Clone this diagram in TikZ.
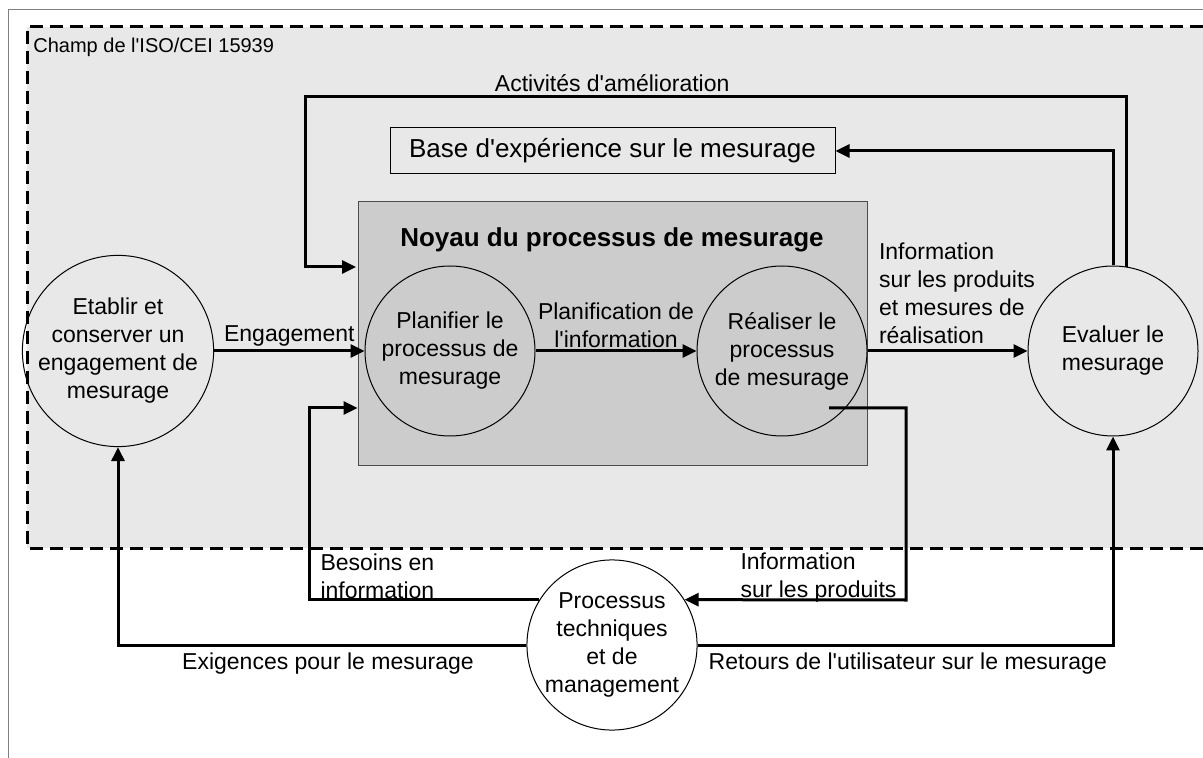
\documentclass[tikz,border=0pt]{standalone}
\usepackage{fontspec}
\setsansfont{Liberation Sans}[Ligatures=TeXOff]
\usetikzlibrary{arrows.meta}
\definecolor{scopeFill}{HTML}{E8E8E8}
\definecolor{coreFill}{HTML}{CCCCCC}
\begin{document}
\begin{tikzpicture}[
  x=0.5pt, y=-0.5pt,
  font=\sffamily\fontsize{11.5}{14}\selectfont,
  every node/.style={align=center},
  process/.style={draw, line width=0.5pt, circle, minimum size=85pt, inner sep=0pt,
    font=\sffamily\fontsize{11.5}{14}\selectfont},
  flow/.style={-{Triangle[length=7pt,width=6.5pt]}, line width=1.5pt},
  scopeLine/.style={line width=1.5pt, dash pattern=on 6.5pt off 3.5pt}]

% Frame and scope of the standard
\useasboundingbox (0,0) rectangle (1203,758);
\draw[gray, line width=0.5pt] (8,758) -- (8,10) -- (1203,10);
\fill[scopeFill] (27,27) rectangle (1203,548);
\draw[scopeLine] (1203,27) -- (27,27) -- (27,548) -- (1203,548);
\node[anchor=west, inner sep=0pt, font=\sffamily\fontsize{10}{12}\selectfont] (scopeLabel) at (33,47) {Champ de l'ISO/CEI 15939};

% Boxes
\node[draw, line width=0.5pt, minimum width=222.5pt, minimum height=23pt, inner sep=0pt,
  font=\sffamily\fontsize{13}{15}\selectfont] (experienceBase) at (612.5,151) {Base d'expérience sur le mesurage};
\node[draw=black!70, line width=0.5pt, fill=coreFill, minimum width=254.5pt, minimum height=131.5pt] (coreBox) at (612.5,333.5) {};
\node[font=\sffamily\bfseries\fontsize{13}{15}\selectfont] (coreTitle) at (612,240) {Noyau du processus de mesurage};

% Processes
\node[process] (establishCommitment) at (118,351) {Etablir et\\conserver un\\engagement de\\mesurage};
\node[process] (planProcess) at (450,351) {Planifier le\\processus de\\mesurage};
\node[process] (performProcess) at (782,351) {Réaliser le\\processus\\de mesurage};
\node[process] (evaluateMeasurement) at (1113,351) {Evaluer le\\mesurage};
\node[process, fill=white] (techMgmt) at (612,645) {Processus\\techniques\\et de\\management};

% Corners of the connectors
\coordinate (improveTop) at (305,97);
\coordinate (improveIn) at (356,267);
\coordinate (needsCorner) at (309,408);
\coordinate (productCorner) at (906,600);

% Draw the arrows between the nodes and label them.
\draw [flow] (establishCommitment) -- node[above, inner sep=1.5pt] {Engagement} (planProcess);
\draw [flow] (planProcess) -- node[above, inner sep=1pt] {Planification de\\l'information} (performProcess);
\draw [flow] (performProcess) -- node[pos=0, anchor=south west, align=left, inner sep=3pt, xshift=2pt]
  {Information\\sur les produits\\et mesures de\\réalisation} (evaluateMeasurement);
\draw [flow] (evaluateMeasurement.north) |- (experienceBase.east);
\draw [flow] (evaluateMeasurement.81) |- node[pos=0.813, above, inner sep=2pt] {Activités d'amélioration} (improveTop) |- (improveIn);
\draw [flow] ([shift={(47,57)}]performProcess.center) -| (productCorner)
  -- node[pos=0, anchor=south east, align=left, inner sep=2pt, xshift=-2pt, yshift=-4pt] {Information\\sur les produits} (techMgmt.32);
\draw [flow] (techMgmt.148) -| node[pos=0.5, anchor=south west, align=left, inner sep=2pt, xshift=3pt, yshift=-2.5pt]
  {Besoins en\\information} (needsCorner) -- (needsCorner -| coreBox.west);
\draw [flow] (techMgmt.west) -| node[pos=0.243, below, inner sep=3pt] {Exigences pour le mesurage} (establishCommitment.south);
\draw [flow] (techMgmt.east) -| node[pos=0.253, below, inner sep=3pt] {Retours de l'utilisateur sur le mesurage} (evaluateMeasurement.south);
\end{tikzpicture}
\end{document}
